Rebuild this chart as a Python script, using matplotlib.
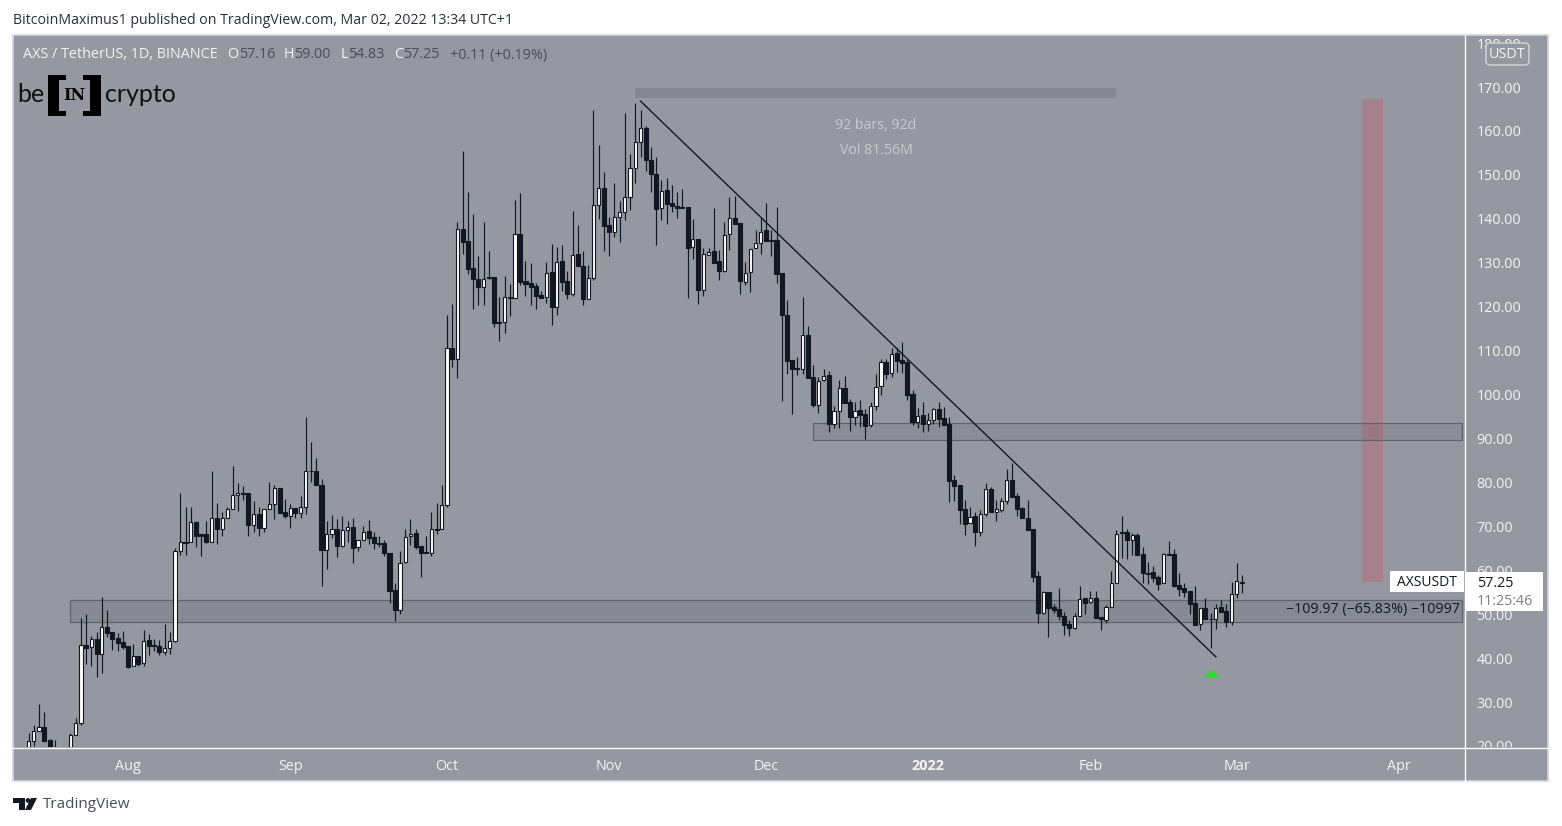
import numpy as np
import pandas as pd
import matplotlib
matplotlib.use('Agg')
import matplotlib.pyplot as plt
import matplotlib.dates as mdates
from matplotlib.patches import Rectangle, FancyBboxPatch, Polygon, Circle
from matplotlib.transforms import Bbox

W, H = 1562, 826
plt.rcParams['font.family'] = ['Open Sans', 'DejaVu Sans']

# daily candles, 13 Jul 2021 .. 2 Mar 2022
opens = [
    19.0, 21.1, 23.5, 24.25, 21.4, 19.2, 18.5, 18.0, 18.5, 22.6,
    25.2, 42.9, 42.5, 44.3, 41.0, 47.2, 45.9, 44.6, 43.6, 42.7,
    38.1, 40.4, 38.8, 44.1, 42.9, 42.8, 41.5, 42.4, 43.8, 64.5,
    66.5, 66.4, 71.0, 68.2, 68.2, 66.5, 72.0, 69.5, 72.0, 73.9,
    77.1, 77.5, 77.5, 70.2, 72.7, 69.7, 73.9, 75.0, 78.7, 73.3,
    72.4, 74.1, 73.0, 74.3, 82.7, 82.5, 79.3, 64.7, 68.2, 69.3,
    65.6, 69.1, 69.9, 65.2, 67.0, 68.9, 67.5, 66.3, 66.3, 64.0,
    55.4, 50.9, 61.8, 67.7, 68.4, 65.5, 64.1, 64.0, 69.4, 69.5,
    74.9, 110.5, 108.0, 137.6, 134.9, 128.7, 126.4, 124.5, 126.7, 126.7,
    116.6, 116.6, 122.3, 121.9, 136.5, 125.8, 125.3, 124.8, 122.6, 122.3,
    127.8, 120.0, 130.3, 125.8, 123.0, 131.9, 129.2, 121.7, 126.6, 143.2,
    147.0, 138.5, 137.0, 140.5, 141.6, 145.0, 151.6, 157.4, 160.6, 153.5,
    150.3, 142.4, 146.5, 143.5, 143.0, 142.7, 142.7, 133.5, 135.5, 123.8,
    131.7, 132.6, 130.3, 128.2, 136.6, 140.3, 139.0, 125.7, 127.8, 133.3,
    134.6, 137.4, 135.2, 135.1, 127.6, 118.1, 107.8, 106.0, 105.9, 113.5,
    103.9, 97.7, 103.4, 104.4, 93.2, 96.2, 101.6, 98.2, 94.8, 96.4,
    95.5, 93.0, 97.5, 101.9, 107.5, 104.8, 109.4, 107.8, 107.5, 100.1,
    93.8, 95.3, 93.4, 94.3, 96.7, 94.6, 93.2, 80.5, 79.3, 73.9,
    70.7, 72.3, 68.6, 72.9, 78.5, 73.3, 73.8, 75.7, 80.5, 76.8,
    74.2, 72.0, 69.4, 58.6, 50.3, 55.0, 51.7, 51.1, 49.7, 47.7,
    46.9, 49.7, 53.6, 52.7, 53.6, 49.3, 48.6, 51.6, 57.0, 68.7,
    68.6, 67.0, 68.0, 63.6, 59.4, 59.5, 58.5, 57.2, 63.8, 63.7,
    56.6, 55.9, 55.2, 52.5, 47.7, 51.4, 49.0, 49.0, 51.6, 50.7,
    48.3, 54.7, 57.16,
]
highs = [
    23.0, 24.7, 29.6, 27.7, 21.7, 21.4, 19.5, 19.0, 22.9, 26.3,
    49.1, 50.0, 45.0, 45.9, 53.9, 51.0, 46.0, 45.7, 46.2, 42.7,
    43.2, 40.4, 46.4, 45.5, 44.4, 44.1, 47.8, 46.0, 65.1, 77.7,
    74.4, 74.3, 71.2, 68.2, 71.2, 82.7, 75.3, 73.3, 74.5, 83.8,
    79.8, 79.2, 77.5, 75.8, 74.3, 73.9, 80.1, 79.4, 78.7, 76.2,
    75.1, 74.1, 76.8, 94.8, 89.1, 85.5, 80.7, 71.2, 72.6, 71.7,
    72.3, 71.3, 71.8, 67.0, 70.1, 71.4, 68.8, 67.9, 66.9, 64.0,
    57.2, 64.4, 69.5, 71.7, 69.3, 65.5, 67.8, 73.2, 75.4, 79.4,
    118.1, 120.7, 139.2, 155.4, 146.1, 141.2, 131.5, 139.2, 132.7, 126.7,
    122.1, 127.1, 125.1, 144.3, 145.8, 130.4, 129.9, 125.4, 123.6, 130.1,
    134.2, 133.5, 134.0, 128.1, 141.8, 138.5, 132.7, 129.6, 164.8, 156.9,
    150.6, 140.5, 148.2, 144.1, 164.2, 154.7, 166.3, 164.7, 161.1, 156.4,
    154.0, 148.8, 149.2, 147.8, 146.2, 146.8, 142.7, 139.9, 135.5, 133.3,
    133.3, 142.5, 133.0, 139.2, 145.0, 145.2, 139.0, 130.1, 133.2, 137.4,
    140.1, 143.5, 137.4, 142.8, 127.6, 121.5, 107.8, 108.6, 122.1, 115.6,
    106.7, 104.0, 105.9, 105.3, 97.4, 103.3, 104.2, 99.1, 98.4, 98.7,
    96.6, 98.4, 104.6, 108.2, 108.2, 110.7, 110.5, 111.9, 108.2, 101.0,
    96.9, 98.2, 95.7, 96.9, 98.2, 97.1, 95.0, 81.7, 79.3, 76.1,
    74.3, 73.3, 73.7, 79.8, 78.9, 76.0, 76.4, 83.0, 84.5, 77.7,
    74.5, 76.1, 69.4, 59.8, 55.3, 55.0, 52.3, 55.9, 50.6, 48.7,
    50.2, 56.4, 53.6, 55.3, 55.3, 49.3, 52.1, 59.8, 69.2, 72.3,
    69.5, 68.4, 68.5, 65.2, 61.8, 61.0, 58.9, 64.0, 66.7, 64.8,
    59.4, 57.2, 55.2, 56.4, 51.3, 53.8, 50.2, 52.3, 53.2, 52.3,
    57.4, 61.6, 59.0,
]
lows = [
    18.0, 20.0, 23.3, 21.0, 19.0, 18.0, 17.5, 17.5, 18.0, 22.4,
    24.8, 38.7, 38.1, 35.6, 36.7, 44.9, 41.9, 41.7, 42.1, 37.8,
    38.1, 38.1, 38.3, 40.6, 41.7, 40.6, 40.7, 41.0, 43.7, 63.5,
    63.5, 66.4, 65.2, 63.3, 66.3, 66.5, 66.0, 67.7, 71.8, 73.9,
    73.4, 76.0, 67.7, 68.8, 67.7, 68.6, 73.9, 71.7, 73.0, 71.8,
    69.7, 71.8, 72.0, 72.8, 80.2, 79.3, 56.5, 60.3, 67.3, 63.1,
    65.4, 66.5, 61.7, 64.4, 67.0, 66.0, 64.8, 65.2, 63.3, 52.6,
    48.5, 50.0, 61.6, 65.7, 64.8, 58.5, 63.9, 63.3, 68.2, 69.5,
    74.5, 106.3, 103.7, 132.0, 127.4, 119.5, 120.4, 120.4, 126.4, 115.4,
    112.2, 114.1, 117.9, 121.9, 124.9, 122.4, 120.4, 119.5, 122.0, 120.9,
    115.9, 118.2, 123.6, 121.7, 122.5, 129.2, 120.4, 121.7, 126.1, 140.0,
    132.7, 131.6, 135.9, 134.8, 139.7, 142.0, 148.2, 154.1, 150.9, 146.2,
    134.0, 139.7, 138.8, 141.6, 140.2, 142.5, 122.0, 130.8, 120.7, 122.5,
    131.7, 130.0, 126.0, 128.0, 132.9, 138.9, 122.9, 124.9, 123.4, 133.3,
    132.1, 135.0, 131.6, 125.4, 98.6, 104.7, 95.5, 104.4, 104.7, 103.8,
    97.2, 95.9, 103.0, 91.4, 92.3, 92.3, 98.1, 91.8, 93.0, 92.7,
    89.9, 92.7, 96.5, 99.9, 103.5, 103.9, 105.2, 104.8, 98.7, 93.1,
    92.3, 91.5, 91.8, 93.4, 92.7, 93.1, 75.6, 75.8, 70.5, 68.1,
    70.7, 65.6, 67.9, 72.4, 73.3, 71.3, 73.3, 75.1, 76.7, 72.4,
    71.8, 69.2, 57.4, 48.1, 50.0, 44.9, 50.3, 48.7, 45.3, 45.0,
    46.6, 49.7, 50.0, 52.6, 49.1, 46.5, 48.1, 51.6, 57.0, 62.7,
    62.6, 63.5, 63.5, 57.2, 56.9, 57.4, 55.6, 57.2, 63.5, 56.3,
    54.1, 54.0, 50.0, 47.5, 46.4, 48.9, 42.4, 46.6, 50.5, 47.2,
    47.5, 53.8, 54.83,
]
closes = [
    21.1, 23.5, 24.25, 21.2, 19.5, 18.5, 18.0, 18.5, 22.6, 25.2,
    42.9, 42.4, 44.3, 41.0, 47.2, 45.8, 44.4, 43.4, 42.6, 38.0,
    40.4, 38.7, 44.0, 42.8, 42.8, 41.5, 42.4, 43.8, 64.5, 66.5,
    66.3, 70.9, 67.9, 67.9, 66.5, 72.0, 69.5, 72.0, 73.9, 77.1,
    77.5, 77.3, 70.2, 72.7, 69.7, 73.9, 75.0, 78.7, 73.1, 72.4,
    74.1, 73.0, 74.3, 82.7, 82.5, 79.3, 64.7, 68.3, 69.3, 65.6,
    69.1, 69.9, 65.1, 67.0, 68.8, 67.3, 66.1, 66.0, 64.0, 55.3,
    50.9, 61.7, 67.6, 68.3, 65.4, 64.0, 63.9, 69.3, 69.2, 74.9,
    110.5, 108.0, 137.6, 134.8, 128.6, 126.4, 124.5, 126.4, 126.5, 116.3,
    116.3, 122.3, 121.9, 136.5, 125.7, 125.2, 124.5, 122.5, 122.0, 127.7,
    120.0, 130.2, 125.7, 123.0, 131.8, 129.2, 121.8, 126.6, 143.2, 147.1,
    138.4, 137.0, 140.5, 141.6, 145.0, 151.6, 157.4, 160.6, 153.4, 150.3,
    142.3, 146.4, 143.4, 142.9, 142.5, 142.5, 133.4, 135.5, 123.8, 131.9,
    132.5, 130.0, 128.2, 136.4, 140.3, 138.9, 125.9, 127.7, 133.2, 134.5,
    137.0, 135.0, 135.0, 127.5, 118.2, 107.7, 105.9, 105.9, 113.5, 103.8,
    97.6, 103.2, 104.3, 93.2, 96.3, 101.6, 98.1, 94.8, 96.3, 95.3,
    92.9, 97.5, 101.8, 107.5, 104.7, 109.3, 107.7, 107.2, 100.0, 93.8,
    95.2, 93.4, 94.3, 96.6, 94.5, 93.1, 80.4, 79.2, 73.7, 70.5,
    72.2, 68.6, 72.9, 78.4, 73.3, 73.9, 75.7, 80.5, 76.7, 73.9,
    72.0, 69.2, 58.5, 50.3, 55.0, 51.5, 51.0, 49.6, 47.5, 46.9,
    49.7, 53.5, 52.6, 53.6, 49.1, 48.8, 51.6, 57.0, 68.3, 68.5,
    67.0, 68.0, 63.5, 59.3, 59.2, 58.3, 56.9, 63.6, 63.5, 56.4,
    55.7, 55.0, 52.3, 47.5, 51.3, 48.9, 48.9, 51.5, 50.5, 48.3,
    54.7, 57.5, 57.25,
]

price_ticks = list(range(20, 190, 10))
month_dates = ['2021-08-01', '2021-09-01', '2021-10-01', '2021-11-01', '2021-12-01',
               '2022-01-01', '2022-02-01', '2022-03-01', '2022-04-01']
month_labels = ['Aug', 'Sep', 'Oct', 'Nov', 'Dec', '2022', 'Feb', 'Mar', 'Apr']

# drawings on the chart: (start date, end date, price low, price high)
support_zone = ('2021-07-21', '2022-04-13', 48.2, 53.2)
resist_zone = ('2021-12-10', '2022-04-13', 89.7, 93.5)
measure_bar = ('2021-11-06', '2022-02-06', 167.5, 169.8)
drop_bar = ('2022-03-25', '2022-03-29', 57.3, 167.3)
trend_dates = ['2021-11-07', '2022-02-25']
trend_prices = [166.8, 40.3]
arrow_date = '2022-02-24'
arrow_price = 36.6

PANE = '#9598a1'
DARK = '#131722'
WHITE_TXT = '#f4f4f6'


def num(d):
    return mdates.date2num(pd.Timestamp(d))


opens, highs, lows, closes = map(np.array, (opens, highs, lows, closes))
x = mdates.date2num(pd.date_range('2021-07-13', periods=len(closes)))
up = closes >= opens

fig = plt.figure(figsize=(W / 100, H / 100), dpi=100, facecolor='white')

# background panes, in pixels
bg = fig.add_axes([0, 0, 1, 1], zorder=0)
bg.set_xlim(0, W)
bg.set_ylim(H, 0)
bg.axis('off')
bg.add_patch(Rectangle((13, 35), 1535, 746, fc=PANE, ec='#d4d6dc', lw=1.2))
bg.plot([1464.5, 1464.5], [35, 781], color='white', lw=1)
bg.plot([13, 1548], [747.5, 747.5], color='white', lw=1)

# price chart
ax = fig.add_axes([13 / W, (H - 747) / H, (1464 - 13) / W, (747 - 35) / H], zorder=1)
ax.patch.set_alpha(0)
for s in ax.spines.values():
    s.set_visible(False)
ax.set_xlim(num('2021-08-01') + (13 - 128) / 5.23, num('2021-08-01') + (1464 - 128) / 5.23)
ax.set_ylim(19.77, 181.85)

ax.add_patch(Rectangle((num(drop_bar[0]), drop_bar[2]), num(drop_bar[1]) - num(drop_bar[0]),
                       drop_bar[3] - drop_bar[2], fc='#a6808a', lw=0, zorder=1))
ax.add_patch(Rectangle((num(measure_bar[0]), measure_bar[2]), num(measure_bar[1]) - num(measure_bar[0]),
                       measure_bar[3] - measure_bar[2], fc='#858892', lw=0, zorder=1))
for zone, alpha in ((support_zone, 0.18), (resist_zone, 0.14)):
    ax.add_patch(Rectangle((num(zone[0]), zone[2]), num(zone[1]) - num(zone[0]), zone[3] - zone[2],
                           fc=matplotlib.colors.to_rgba('#4a4d58', alpha), ec='#61646f', lw=0.9, zorder=1))

ax.vlines(x, lows, highs, color=DARK, lw=0.85, zorder=2)
ax.bar(x[up], (closes - opens)[up], bottom=opens[up], width=0.62, color='white',
       edgecolor=DARK, lw=0.8, zorder=3)
ax.bar(x[~up], (closes - opens)[~up], bottom=opens[~up], width=0.78, color=DARK,
       edgecolor=DARK, lw=0.8, zorder=3)

ax.plot([num(d) for d in trend_dates], trend_prices, color=DARK, lw=1.0, zorder=4)
ax.plot([num(arrow_date)], [arrow_price], marker=[(-1, -0.5), (0, 0.5), (1, -0.5)], ms=11,
        color='#22e022', mew=0, zorder=4)

ax.set_xticks([num(d) for d in month_dates], month_labels)
ax.yaxis.tick_right()
ax.set_yticks(price_ticks, ['%.2f' % p for p in price_ticks])
ax.tick_params(axis='both', length=0, labelcolor=WHITE_TXT, labelsize=10.4)
ax.tick_params(axis='x', pad=9)
ax.tick_params(axis='y', pad=9)
ax.get_xticklabels()[5].set_fontweight('bold')
clip = Bbox([[1465, H - 747], [1548, H - 35]])
for lab in ax.yaxis.get_ticklabels():
    lab.set_clip_on(True)
    lab.set_clip_box(clip)

# texts and labels on top, in pixels
ov = fig.add_axes([0, 0, 1, 1], zorder=2)
ov.set_xlim(0, W)
ov.set_ylim(H, 0)
ov.axis('off')
ov.patch.set_alpha(0)

ov.text(13, 20, 'BitcoinMaximus1 published on TradingView.com, Mar 02, 2022 13:34 UTC+1',
        color='#2a2e39', fontsize=10.2, va='center')

ov.text(23, 55, 'AXS / TetherUS, 1D, BINANCE', color=WHITE_TXT, fontsize=10.4, va='center')
legend_bits = [(227.5, 239, 'O', '57.16'), (284, 294, 'H', '59.00'), (341, 348, 'L', '54.83'), (394, 403, 'C', '57.25')]
for lx, vx, letter, val in legend_bits:
    ov.text(lx, 55, letter, color=WHITE_TXT, fontsize=10.4, va='center')
    ov.text(vx, 55, val, color='#4a4d58', fontsize=10.4, va='center')
ov.text(450, 55, '+0.11 (+0.19%)', color='#4a4d58', fontsize=10.4, va='center')

ov.text(876, 125.5, '92 bars, 92d', color='#c8cad1', fontsize=10.2, ha='center', va='center')
ov.text(876, 150.5, 'Vol 81.56M', color='#c8cad1', fontsize=10.2, ha='center', va='center')
ov.text(1460, 610, '\u2212109.97 (\u221265.83%) \u221210997', color=DARK, fontsize=10.3, ha='right', va='center')

# last price tag
ov.add_patch(Rectangle((1390, 571), 74, 21, fc='white', lw=0))
ov.add_patch(Rectangle((1465, 572), 78, 39, fc='white', lw=0))
ov.text(1397, 582.5, 'AXSUSDT', color=DARK, fontsize=10, va='center')
ov.text(1477, 583.5, '57.25', color=DARK, fontsize=10.4, va='center')
ov.text(1477, 601.5, '11:25:46', color='#7c7f8a', fontsize=10.4, va='center')

# currency badge
ov.add_patch(FancyBboxPatch((1489, 46), 37, 16, boxstyle='round,pad=3,rounding_size=4',
                            fc=PANE, ec='#d4d6dc', lw=1))
ov.text(1507.5, 54.5, 'USDT', color=WHITE_TXT, fontsize=10.4, ha='center', va='center')

# beincrypto logo
ov.text(17, 95, 'be', color='#111111', fontsize=18, family='Lato', va='center')
ov.text(105, 95, 'crypto', color='#111111', fontsize=18, family='Lato', va='center')
ov.add_patch(Polygon([(48, 75), (66, 75), (66, 80), (59, 80), (59, 111), (66, 111), (66, 116), (48, 116)],
                     fc='black', lw=0))
ov.add_patch(Polygon([(101, 75), (83, 75), (83, 80), (90, 80), (90, 111), (83, 111), (83, 116), (101, 116)],
                     fc='black', lw=0))
ov.text(74.5, 96, 'IN', color='black', fontsize=11.5, family='DejaVu Serif', fontweight='bold',
        ha='center', va='center')

# tradingview footer
ov.add_patch(Polygon([(13, 798), (25, 798), (25, 810), (19, 810), (19, 803), (13, 803)], fc='#131722', lw=0))
ov.add_patch(Circle((28, 800.5), 2.4, fc='#131722', lw=0))
ov.add_patch(Polygon([(31, 798), (37, 798), (31, 810), (25, 810)], fc='#131722', lw=0))
ov.text(43, 805, 'TradingView', color='#4a4e59', fontsize=11, va='center')

fig.savefig('out.png', dpi=100)
